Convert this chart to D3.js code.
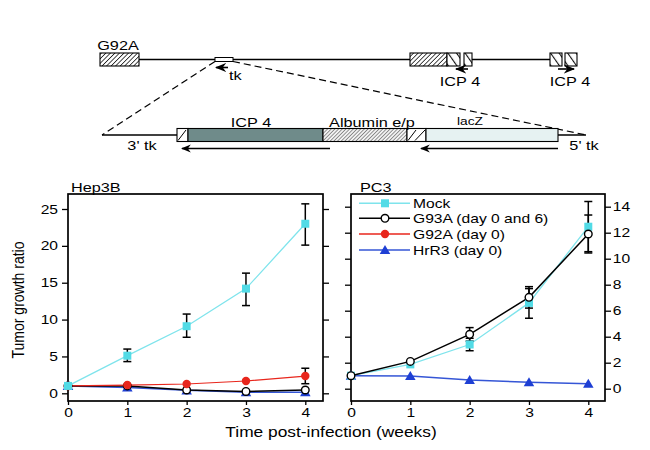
<!DOCTYPE html>
<html>
<head>
<meta charset="utf-8">
<script src="https://cdn.jsdelivr.net/npm/d3@7"></script>
<style>
  body { margin: 0; background: #fff; }
  svg { display: block; font-family: "Liberation Sans", Arial, sans-serif; }
</style>
</head>
<body>
<svg id="fig" width="650" height="450"></svg>
<script>
// --- data ---
const weeks = [0, 1, 2, 3, 4];

// Hep3B panel
const hepMock = [1, 5.1, 9.1, 14.2, 23.0];
const hepMockErr = [null, [4.3, 6.0], [7.6, 10.75], [11.9, 16.3], [20.1, 25.7]];
const hepG93A = [1, 1.0, 0.45, 0.25, 0.45];
const hepG92A = [1, 1.12, 1.26, 1.67, 2.34];
const hepG92AErr = [null, null, null, null, [1.3, 3.4]];
const hepHrR3 = [1, 0.8, 0.4, 0.15, 0.15];
const hepTicks = [0, 5, 10, 15, 20, 25];

// PC3 panel
const pcMock = [1, 1.87, 3.4, 6.6, 12.46];
const pcMockErr = [null, null, [2.92, 3.88], [5.42, 7.85], [10.54, 14.4]];
const pcG93A = [1, 2.1, 4.18, 7.03, 11.9];
const pcG93AErr = [null, null, [3.66, 4.7], [6.2, 7.7], [10.44, 13.36]];
const pcHrR3 = [1, 0.98, 0.67, 0.49, 0.38];
const pcTicks = [0, 2, 4, 6, 8, 10, 12, 14];

const seriesNames = ["Mock", "G93A (day 0 and 6)", "G92A (day 0)", "HrR3 (day 0)"];

// genome map schematic (positions along the map)
const mapSegments = [[139, 410], [472, 550]];
const mapBoxes = [
  { x0: 100, x1: 139, kind: "hatch" },
  { x0: 410, x1: 447, kind: "hatch" },
  { x0: 447, x1: 460, kind: "split" },
  { x0: 464, x1: 472, kind: "split" },
  { x0: 550, x1: 562, kind: "split" },
  { x0: 565, x1: 577, kind: "split" }
];
const constructSegments = [[102, 177], [558, 586]];
const constructBoxes = [
  { x0: 177, x1: 188, kind: "slash" },
  { x0: 188, x1: 323, kind: "icp" },
  { x0: 323, x1: 407, kind: "fine" },
  { x0: 407, x1: 426, kind: "slash" },
  { x0: 426, x1: 558, kind: "lacz" }
];

const svg = d3.select("#fig");
const SX = 1.25; // text in the figure is stretched sideways

function label(g, x, y, str, size, anchor) {
  return g.append("text")
    .attr("transform", `translate(${x},${y}) scale(${SX},1)`)
    .attr("text-anchor", anchor || "start")
    .style("font-size", size + "px")
    .text(str);
}

// patterns + arrow heads
const defs = svg.append("defs");
defs.append("pattern").attr("id", "hatch")
  .attr("patternUnits", "userSpaceOnUse").attr("width", 3.2).attr("height", 3.2)
  .attr("patternTransform", "rotate(45)")
  .call(p => {
    p.append("rect").attr("width", 3.2).attr("height", 3.2).attr("fill", "#fff");
    p.append("line").attr("x1", 0).attr("y1", 0).attr("x2", 0).attr("y2", 3.2)
      .attr("stroke", "#111").attr("stroke-width", 1.5);
  });
defs.append("pattern").attr("id", "fine")
  .attr("patternUnits", "userSpaceOnUse").attr("width", 2.6).attr("height", 2.6)
  .attr("patternTransform", "rotate(45)")
  .call(p => {
    p.append("rect").attr("width", 2.6).attr("height", 2.6).attr("fill", "#f2f2f2");
    p.append("line").attr("x1", 0).attr("y1", 0).attr("x2", 0).attr("y2", 2.6)
      .attr("stroke", "#333").attr("stroke-width", 1);
  });
defs.append("pattern").attr("id", "split")
  .attr("patternUnits", "userSpaceOnUse").attr("width", 7).attr("height", 7)
  .attr("patternTransform", "rotate(-35)")
  .call(p => {
    p.append("rect").attr("width", 7).attr("height", 7).attr("fill", "#fff");
    p.append("line").attr("x1", 0).attr("y1", 0).attr("x2", 0).attr("y2", 7)
      .attr("stroke", "#111").attr("stroke-width", 2.2);
  });
defs.append("marker").attr("id", "arrow")
  .attr("viewBox", "0 0 10 10").attr("refX", 9).attr("refY", 5)
  .attr("markerWidth", 7).attr("markerHeight", 7).attr("orient", "auto")
  .append("path").attr("d", "M0,1 L10,5 L0,9 L3,5 z").attr("fill", "#000");

// --- genome map ---
const mapX = d3.scaleLinear().domain([0, 650]).range([0, 650]);
const map = svg.append("g");
const mapY = 59.5;

map.selectAll(".seg").data(mapSegments).enter().append("line")
  .attr("x1", d => mapX(d[0])).attr("x2", d => mapX(d[1]))
  .attr("y1", mapY).attr("y2", mapY)
  .attr("stroke", "#000").attr("stroke-width", 1.5);

map.selectAll(".box").data(mapBoxes).enter().append("rect")
  .attr("x", d => mapX(d.x0)).attr("width", d => mapX(d.x1) - mapX(d.x0))
  .attr("y", 53).attr("height", 13)
  .attr("fill", d => `url(#${d.kind})`)
  .attr("stroke", "#000").attr("stroke-width", 1.1);

// tk
map.append("rect").attr("x", mapX(215)).attr("width", mapX(233) - mapX(215))
  .attr("y", 57.5).attr("height", 4)
  .attr("fill", "#fff").attr("stroke", "#000").attr("stroke-width", 1);

// dashed zoom lines
map.append("line").attr("x1", mapX(215)).attr("y1", 61.5).attr("x2", mapX(102)).attr("y2", 135)
  .attr("stroke", "#000").attr("stroke-width", 1.2).attr("stroke-dasharray", "7,4");
map.append("line").attr("x1", mapX(233)).attr("y1", 61.5).attr("x2", mapX(586)).attr("y2", 135)
  .attr("stroke", "#000").attr("stroke-width", 1.2).attr("stroke-dasharray", "7,4");

// direction arrows on the map
const mapArrows = [[228, 216, 67.5], [468, 456, 69], [558, 574, 69]];
map.selectAll(".marr").data(mapArrows).enter().append("line")
  .attr("x1", d => mapX(d[0])).attr("x2", d => mapX(d[1]))
  .attr("y1", d => d[2]).attr("y2", d => d[2])
  .attr("stroke", "#000").attr("stroke-width", 1.6)
  .attr("marker-end", "url(#arrow)");

label(map, 118, 49.5, "G92A", 13, "middle");
label(map, 229, 80, "tk", 13, "start");
label(map, 460, 85.5, "ICP 4", 13, "middle");
label(map, 570, 85.5, "ICP 4", 13, "middle");

// --- construct ---
const conY = 135;
map.selectAll(".cseg").data(constructSegments).enter().append("line")
  .attr("x1", d => mapX(d[0])).attr("x2", d => mapX(d[1]))
  .attr("y1", conY).attr("y2", conY)
  .attr("stroke", "#000").attr("stroke-width", 1.5);

const conFill = { slash: "#fff", icp: "#6f8b8a", fine: "url(#fine)", lacz: "#e6f2f2" };
map.selectAll(".cbox").data(constructBoxes).enter().append("rect")
  .attr("x", d => mapX(d.x0)).attr("width", d => mapX(d.x1) - mapX(d.x0))
  .attr("y", 128.5).attr("height", 13)
  .attr("fill", d => conFill[d.kind])
  .attr("stroke", "#000").attr("stroke-width", 1.1);

// single slashes in the small boxes
map.selectAll(".slash").data(constructBoxes.filter(d => d.kind === "slash")).enter().append("line")
  .attr("x1", d => mapX(d.x0) + 1).attr("y1", 140.5)
  .attr("x2", d => mapX(d.x0) + Math.min(9, mapX(d.x1) - mapX(d.x0) - 1)).attr("y2", 130)
  .attr("stroke", "#000").attr("stroke-width", 1);
map.append("line").attr("x1", mapX(415)).attr("y1", 140.5).attr("x2", mapX(425)).attr("y2", 130)
  .attr("stroke", "#000").attr("stroke-width", 1);

const conArrows = [[330, 182, 148.5], [558, 421, 148.5]];
map.selectAll(".carr").data(conArrows).enter().append("line")
  .attr("x1", d => mapX(d[0])).attr("x2", d => mapX(d[1]))
  .attr("y1", d => d[2]).attr("y2", d => d[2])
  .attr("stroke", "#000").attr("stroke-width", 1.4)
  .attr("marker-end", "url(#arrow)");

label(map, 251, 127, "ICP 4", 13, "middle");
label(map, 372, 127, "Albumin e/p", 13, "middle");
label(map, 470, 125, "lacZ", 11, "middle");
label(map, 142, 150, "3' tk", 13, "middle");
label(map, 584, 150, "5' tk", 13, "middle");

// --- growth panels ---
const xL = d3.scaleLinear().domain([0, 4]).range([68, 305.3]);
const yL = d3.scaleLinear().domain([0, 25]).range([393.3, 209]);
const xR = d3.scaleLinear().domain([0, 4]).range([351, 588.3]);
const yR = d3.scaleLinear().domain([0, 14]).range([388.7, 206.7]);

const colMock = "#52dbe6", colMockLine = "#7fe4ec";
const colRed = "#e8261c", colBlue = "#1e3fd4", colBlueLine = "#3556d6";

function stretchTicks(sel) {
  sel.selectAll(".tick text")
    .style("font-size", "12.5px")
    .attr("transform", `scale(${SX},1)`);
}

function panel(x, y, frame, ticks, labelSide) {
  const g = svg.append("g");
  const bottom = frame.y1;

  const left = g.append("g").attr("transform", `translate(${frame.x0},0)`)
    .call(d3.axisLeft(y).tickValues(ticks).tickSize(6).tickPadding(2)
      .tickFormat(labelSide === "left" ? d3.format("d") : ""));
  const right = g.append("g").attr("transform", `translate(${frame.x1},0)`)
    .call(d3.axisRight(y).tickValues(ticks).tickSize(6).tickPadding(0.2)
      .tickFormat(labelSide === "right" ? d3.format("d") : ""));
  const bot = g.append("g").attr("transform", `translate(0,${bottom})`)
    .call(d3.axisBottom(x).tickValues(weeks).tickSize(4).tickPadding(3).tickFormat(d3.format("d")));

  [left, right, bot].forEach(a => {
    a.select(".domain").remove();
    a.selectAll(".tick line").attr("stroke-width", 1.3);
    a.selectAll(".tick text").attr("fill", "#000");
    stretchTicks(a);
  });

  g.append("rect")
    .attr("x", frame.x0).attr("y", frame.y0)
    .attr("width", frame.x1 - frame.x0).attr("height", frame.y1 - frame.y0)
    .attr("fill", "none").attr("stroke", "#000").attr("stroke-width", 1.7);
  return g;
}

function series(g, x, y, vals, color, width) {
  const line = d3.line().x((d, i) => x(weeks[i])).y(d => y(d));
  g.append("path").datum(vals)
    .attr("d", line).attr("fill", "none")
    .attr("stroke", color).attr("stroke-width", width);
}

function errors(g, x, y, errs) {
  const pts = errs.map((e, i) => e ? { w: weeks[i], lo: e[0], hi: e[1] } : null).filter(Boolean);
  const eg = g.append("g").attr("stroke", "#000").attr("stroke-width", 1.5);
  pts.forEach(p => {
    eg.append("line").attr("x1", x(p.w)).attr("x2", x(p.w)).attr("y1", y(p.lo)).attr("y2", y(p.hi));
    [p.lo, p.hi].forEach(v => {
      eg.append("line").attr("x1", x(p.w) - 4).attr("x2", x(p.w) + 4).attr("y1", y(v)).attr("y2", y(v));
    });
  });
}

const sym = {
  square: d3.symbol(d3.symbolSquare, 64),
  triangle: d3.symbol(d3.symbolTriangle, 48)
};

function markers(g, x, y, vals, kind) {
  const sel = g.append("g").selectAll("g").data(vals).enter().append("g")
    .attr("transform", (d, i) => `translate(${x(weeks[i])},${y(d)})`);
  drawMarker(sel, kind);
}

function drawMarker(sel, kind) {
  if (kind === "mock") sel.append("path").attr("d", sym.square()).attr("fill", colMock);
  if (kind === "g93a") sel.append("circle").attr("r", 3.8).attr("fill", "#fff").attr("stroke", "#000").attr("stroke-width", 1.4);
  if (kind === "g92a") sel.append("circle").attr("r", 4.2).attr("fill", colRed);
  if (kind === "hrr3") sel.append("path").attr("d", sym.triangle()).attr("transform", "translate(0,1)").attr("fill", colBlue);
}

// Hep3B
const gL = panel(xL, yL, { x0: 68, x1: 323, y0: 194, y1: 401 }, hepTicks, "left");
series(gL, xL, yL, hepHrR3, colBlueLine, 1.5);
series(gL, xL, yL, hepG93A, "#000", 1.5);
series(gL, xL, yL, hepG92A, colRed, 1.2);
series(gL, xL, yL, hepMock, colMockLine, 1.3);
errors(gL, xL, yL, hepMockErr);
errors(gL, xL, yL, hepG92AErr);
markers(gL, xL, yL, hepHrR3, "hrr3");
markers(gL, xL, yL, hepG93A, "g93a");
markers(gL, xL, yL, hepG92A, "g92a");
markers(gL, xL, yL, hepMock, "mock");
label(svg, 71, 191.5, "Hep3B", 13, "start");

// PC3
const gR = panel(xR, yR, { x0: 351, x1: 605, y0: 194, y1: 401 }, pcTicks, "right");
series(gR, xR, yR, pcHrR3, colBlueLine, 1.5);
series(gR, xR, yR, pcMock, colMockLine, 1.3);
series(gR, xR, yR, pcG93A, "#000", 1.5);
errors(gR, xR, yR, pcMockErr);
errors(gR, xR, yR, pcG93AErr);
markers(gR, xR, yR, pcHrR3, "hrr3");
markers(gR, xR, yR, pcMock, "mock");
markers(gR, xR, yR, pcG93A, "g93a");
label(svg, 360, 191.5, "PC3", 13, "start");

// legend
const legKinds = ["mock", "g93a", "g92a", "hrr3"];
const legLine = [colMockLine, "#000", colRed, colBlueLine];
const legRows = [203.3, 218.3, 234, 250];
const leg = svg.append("g");
seriesNames.forEach((name, i) => {
  const r = leg.append("g").attr("transform", `translate(0,${legRows[i]})`);
  r.append("line").attr("x1", 359).attr("x2", 410).attr("y1", 0).attr("y2", 0)
    .attr("stroke", legLine[i]).attr("stroke-width", 1.4);
  drawMarker(r.append("g").attr("transform", "translate(385,0)"), legKinds[i]);
  label(r, 413, 4.5, name, 12.5, "start");
});

// axis titles
svg.append("text")
  .attr("transform", "translate(24,300) scale(1.2,1) rotate(-90)")
  .attr("text-anchor", "middle").style("font-size", "14px")
  .text("Tumor growth ratio");
svg.append("text")
  .attr("transform", `translate(331,437) scale(1.24,1)`)
  .attr("text-anchor", "middle").style("font-size", "14px")
  .text("Time post-infection (weeks)");
</script>
</body>
</html>
